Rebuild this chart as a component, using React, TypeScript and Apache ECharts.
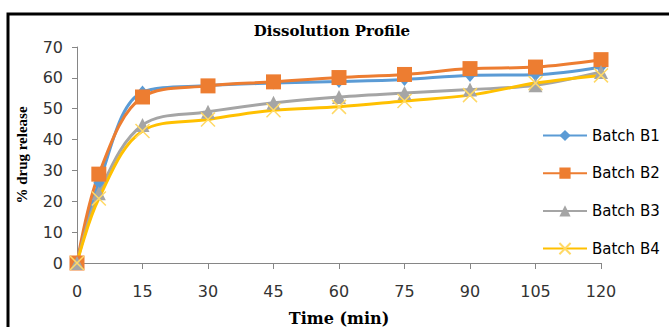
import React, { useEffect, useRef } from "react";
import * as echarts from "echarts";

const times = [0, 5, 15, 30, 45, 60, 75, 90, 105, 120];
const batchNames = ["Batch B1", "Batch B2", "Batch B3", "Batch B4"];
const b1 = [0, 26, 55.4, 57.5, 58.3, 58.8, 59.5, 60.8, 61, 63.5];
const b2 = [0, 28.8, 53.8, 57.4, 58.7, 60.1, 61.1, 63, 63.5, 65.9];
const b3 = [0, 22.6, 44.7, 49, 51.9, 53.8, 55.1, 56.2, 57.6, 61.9];
const b4 = [0, 20.9, 42.8, 46.5, 49.5, 50.6, 52.5, 54.4, 58.3, 60.8];
const colors = ["#5B9BD5", "#ED7D31", "#A5A5A5", "#FFC000"];

export default function App() {
  const ref = useRef<HTMLDivElement>(null);
  useEffect(() => {
    if (!ref.current) return;
    const chart = echarts.init(ref.current, undefined, { renderer: "svg" });
    const values = [b1, b2, b3, b4];
    const symbols = ["diamond", "rect", "triangle", "path://M0,0L10,10M10,0L0,10"];
    const sizes: any[] = [[11, 13], 15, 14, 14];
    const series = batchNames.map((name, i) => ({
      name,
      type: "line",
      smooth: 0.35,
      data: times.map((t, j) => [t, values[i][j]]),
      symbol: symbols[i],
      symbolSize: sizes[i],
      showSymbol: true,
      lineStyle: { color: colors[i], width: 3 },
      itemStyle:
        i === 3
          ? { color: colors[i], borderColor: "#FFD966", borderWidth: 1.5 }
          : { color: colors[i], borderWidth: 0 },
      emphasis: { disabled: true },
    }));
    chart.setOption({
      animation: false,
      color: colors,
      title: {
        text: "Dissolution Profile",
        left: 327,
        textAlign: "center",
        top: 18,
        textStyle: {
          fontFamily: "DejaVu Serif",
          fontWeight: "bold",
          fontSize: 15,
          color: "#000",
        },
      },
      graphic: [
        {
          type: "rect",
          shape: { x: 8, y: 14, width: 720, height: 400 },
          style: { fill: "none", stroke: "#000", lineWidth: 3 },
          silent: true,
        },
      ],
      legend: {
        orient: "vertical",
        left: 537,
        top: 123,
        itemWidth: 44,
        itemHeight: 14,
        itemGap: 22.7,
        textStyle: { fontFamily: "DejaVu Sans", fontSize: 15, color: "#000" },
        data: batchNames,
      },
      grid: {
        left: 77,
        right: 68,
        top: 47,
        bottom: 64,
        containLabel: false,
        outerBoundsMode: "none",
      },
      xAxis: {
        type: "value",
        min: 0,
        max: 120,
        interval: 15,
        name: "Time (min)",
        nameLocation: "middle",
        nameGap: 47,
        nameTextStyle: {
          fontFamily: "DejaVu Serif",
          fontWeight: "bold",
          fontSize: 16,
          color: "#000",
        },
        axisLine: { show: true, lineStyle: { color: "#868686", width: 1 } },
        axisTick: { show: true, length: 6, lineStyle: { color: "#868686" } },
        splitLine: { show: false },
        axisLabel: {
          margin: 20,
          fontFamily: "DejaVu Sans",
          fontSize: 16,
          color: "#333",
        },
      },
      yAxis: {
        type: "value",
        min: 0,
        max: 70,
        interval: 10,
        name: "% drug release",
        nameLocation: "middle",
        nameGap: 48,
        nameTextStyle: {
          fontFamily: "Liberation Serif",
          fontWeight: "bold",
          fontSize: 15,
          color: "#000",
        },
        axisLine: { show: true, lineStyle: { color: "#868686", width: 1 } },
        axisTick: { show: true, length: 5, lineStyle: { color: "#868686" } },
        splitLine: { show: false },
        axisLabel: {
          margin: 14,
          fontFamily: "DejaVu Sans",
          fontSize: 16,
          color: "#333",
        },
      },
      series,
    });
    return () => chart.dispose();
  }, []);
  return (
    <div
      ref={ref}
      style={{ position: "absolute", left: 0, top: 0, width: 669, height: 327, background: "#fff" }}
    />
  );
}
